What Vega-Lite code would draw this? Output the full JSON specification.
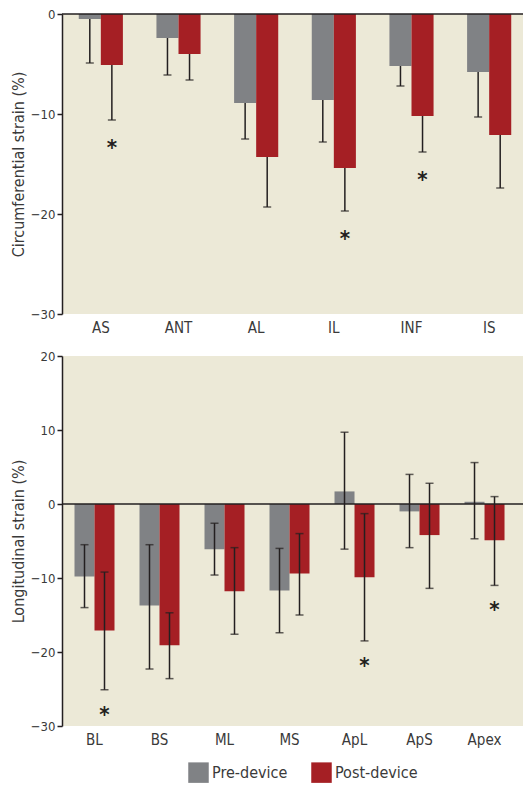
{
  "$schema": "https://vega.github.io/schema/vega-lite/v6.json",
  "padding": {"left": 10, "top": 8, "right": 0, "bottom": 0},
  "background": "white",
  "datasets": {
    "circ": [
      {"segment": "AS", "phase": "Pre-device", "value": -0.5, "lo": -4.9, "sig": false},
      {"segment": "AS", "phase": "Post-device", "value": -5.1, "lo": -10.6, "sig": true},
      {"segment": "ANT", "phase": "Pre-device", "value": -2.4, "lo": -6.1, "sig": false},
      {"segment": "ANT", "phase": "Post-device", "value": -4.0, "lo": -6.6, "sig": false},
      {"segment": "AL", "phase": "Pre-device", "value": -8.9, "lo": -12.5, "sig": false},
      {"segment": "AL", "phase": "Post-device", "value": -14.3, "lo": -19.3, "sig": false},
      {"segment": "IL", "phase": "Pre-device", "value": -8.6, "lo": -12.8, "sig": false},
      {"segment": "IL", "phase": "Post-device", "value": -15.4, "lo": -19.7, "sig": true},
      {"segment": "INF", "phase": "Pre-device", "value": -5.2, "lo": -7.2, "sig": false},
      {"segment": "INF", "phase": "Post-device", "value": -10.2, "lo": -13.8, "sig": true},
      {"segment": "IS", "phase": "Pre-device", "value": -5.8, "lo": -10.3, "sig": false},
      {"segment": "IS", "phase": "Post-device", "value": -12.1, "lo": -17.4, "sig": false}
    ],
    "long": [
      {"segment": "BL", "phase": "Pre-device", "value": -9.8, "lo": -14.0, "hi": -5.5, "sig": false},
      {"segment": "BL", "phase": "Post-device", "value": -17.1, "lo": -25.1, "hi": -9.2, "sig": true},
      {"segment": "BS", "phase": "Pre-device", "value": -13.7, "lo": -22.3, "hi": -5.5, "sig": false},
      {"segment": "BS", "phase": "Post-device", "value": -19.1, "lo": -23.6, "hi": -14.7, "sig": false},
      {"segment": "ML", "phase": "Pre-device", "value": -6.1, "lo": -9.6, "hi": -2.6, "sig": false},
      {"segment": "ML", "phase": "Post-device", "value": -11.8, "lo": -17.6, "hi": -5.9, "sig": false},
      {"segment": "MS", "phase": "Pre-device", "value": -11.7, "lo": -17.4, "hi": -6.0, "sig": false},
      {"segment": "MS", "phase": "Post-device", "value": -9.4, "lo": -15.0, "hi": -4.0, "sig": false},
      {"segment": "ApL", "phase": "Pre-device", "value": 1.7, "lo": -6.1, "hi": 9.7, "sig": false},
      {"segment": "ApL", "phase": "Post-device", "value": -9.9, "lo": -18.5, "hi": -1.3, "sig": true},
      {"segment": "ApS", "phase": "Pre-device", "value": -1.0, "lo": -5.9, "hi": 4.0, "sig": false},
      {"segment": "ApS", "phase": "Post-device", "value": -4.2, "lo": -11.4, "hi": 2.8, "sig": false},
      {"segment": "Apex", "phase": "Pre-device", "value": 0.3, "lo": -4.7, "hi": 5.6, "sig": false},
      {"segment": "Apex", "phase": "Post-device", "value": -4.9, "lo": -11.0, "hi": 1.0, "sig": true}
    ]
  },
  "config": {
    "font": "DejaVu Sans Condensed, Liberation Sans Narrow, Roboto, sans-serif",
    "view": {"fill": "#ECE9D7", "stroke": null},
    "axis": {
      "labelFont": "DejaVu Sans Condensed, Liberation Sans Narrow, Roboto, sans-serif",
      "titleFont": "DejaVu Sans Condensed, Liberation Sans Narrow, Roboto, sans-serif",
      "labelColor": "#3a3a3a",
      "titleColor": "#3a3a3a",
      "grid": false
    },
    "axisY": {
      "domainColor": "#231F20",
      "domainWidth": 1.5,
      "tickColor": "#231F20",
      "tickWidth": 1.5,
      "tickSize": 5,
      "labelFontSize": 13,
      "titleFontSize": 16,
      "titleFontWeight": "normal",
      "labelPadding": 2,
      "titlePadding": 4
    },
    "axisX": {
      "domain": false,
      "ticks": false,
      "labelFontSize": 15,
      "labelPadding": 6,
      "labelAngle": 0
    },
    "concat": {"spacing": 42}
  },
  "bounds": "flush",
  "resolve": {"scale": {"color": "shared", "x": "independent", "xOffset": "independent", "y": "independent"}},
  "vconcat": [
    {
      "width": 466,
      "height": 300,
      "data": {"name": "circ"},
      "encoding": {
        "x": {"field": "segment", "type": "nominal", "sort": ["AS", "ANT", "AL", "IL", "INF", "IS"], "scale": {"paddingInner": 0, "paddingOuter": 0}, "axis": {"title": null}},
        "xOffset": {"field": "phase", "type": "nominal", "sort": ["Pre-device", "Post-device"], "scale": {"paddingInner": 0, "paddingOuter": 0.76}}
      },
      "layer": [
        {
          "mark": {"type": "bar"},
          "encoding": {
            "y": {"field": "value", "type": "quantitative", "scale": {"domain": [-30, 0], "nice": false}, "axis": {"values": [0, -10, -20, -30], "title": "Circumferential strain (%)"}},
            "color": {"field": "phase", "type": "nominal", "sort": ["Pre-device", "Post-device"], "scale": {"domain": ["Pre-device", "Post-device"], "range": ["#808285", "#A51F24"]},
              "legend": {"title": null, "orient": "none", "legendX": 126, "legendY": 748, "direction": "horizontal", "symbolType": "square", "symbolSize": 420, "symbolStrokeWidth": 0, "labelFontSize": 16, "labelColor": "#3a3a3a", "labelFont": "DejaVu Sans Condensed, Liberation Sans Narrow, Roboto, sans-serif", "columnPadding": 23, "labelOffset": 3}}
          }
        },
        {
          "mark": {"type": "rule", "color": "#231F20", "strokeWidth": 1.5},
          "encoding": {"y": {"field": "value", "type": "quantitative"}, "y2": {"field": "lo"}}
        },
        {
          "mark": {"type": "tick", "color": "#231F20", "thickness": 1.5, "size": 8},
          "encoding": {"y": {"field": "lo", "type": "quantitative"}}
        },
        {
          "transform": [{"filter": "datum.sig"}],
          "mark": {"type": "text", "text": "*", "fontSize": 22, "fontWeight": "bold", "color": "#231F20", "baseline": "middle", "dy": 28},
          "encoding": {"y": {"field": "lo", "type": "quantitative"}}
        },
        {
          "data": {"values": [{"z": 0}]},
          "mark": {"type": "rule", "color": "#231F20", "strokeWidth": 1.5},
          "encoding": {"y": {"field": "z", "type": "quantitative"}, "x": {"value": 0}, "x2": {"value": 466}, "xOffset": null}
        }
      ]
    },
    {
      "width": 461,
      "height": 370,
      "data": {"name": "long"},
      "encoding": {
        "x": {"field": "segment", "type": "nominal", "sort": ["BL", "BS", "ML", "MS", "ApL", "ApS", "Apex"], "scale": {"paddingInner": 0, "paddingOuter": 0.046, "align": 0}, "axis": {"title": null}},
        "xOffset": {"field": "phase", "type": "nominal", "sort": ["Pre-device", "Post-device"], "scale": {"paddingInner": 0, "paddingOuter": 0.625}}
      },
      "layer": [
        {
          "mark": {"type": "bar"},
          "encoding": {
            "y": {"field": "value", "type": "quantitative", "scale": {"domain": [-30, 20], "nice": false}, "axis": {"values": [20, 10, 0, -10, -20, -30], "title": "Longitudinal strain (%)"}},
            "color": {"field": "phase", "type": "nominal", "sort": ["Pre-device", "Post-device"]}
          }
        },
        {
          "mark": {"type": "rule", "color": "#231F20", "strokeWidth": 1.5},
          "encoding": {"y": {"field": "hi", "type": "quantitative"}, "y2": {"field": "lo"}}
        },
        {
          "mark": {"type": "tick", "color": "#231F20", "thickness": 1.5, "size": 8},
          "encoding": {"y": {"field": "lo", "type": "quantitative"}}
        },
        {
          "mark": {"type": "tick", "color": "#231F20", "thickness": 1.5, "size": 8},
          "encoding": {"y": {"field": "hi", "type": "quantitative"}}
        },
        {
          "transform": [{"filter": "datum.sig"}],
          "mark": {"type": "text", "text": "*", "fontSize": 22, "fontWeight": "bold", "color": "#231F20", "baseline": "middle", "dy": 25},
          "encoding": {"y": {"field": "lo", "type": "quantitative"}}
        },
        {
          "data": {"values": [{"z": 0}]},
          "mark": {"type": "rule", "color": "#231F20", "strokeWidth": 1.5},
          "encoding": {"y": {"field": "z", "type": "quantitative"}, "x": {"value": 0}, "x2": {"value": 461}, "xOffset": null}
        }
      ]
    }
  ]
}
